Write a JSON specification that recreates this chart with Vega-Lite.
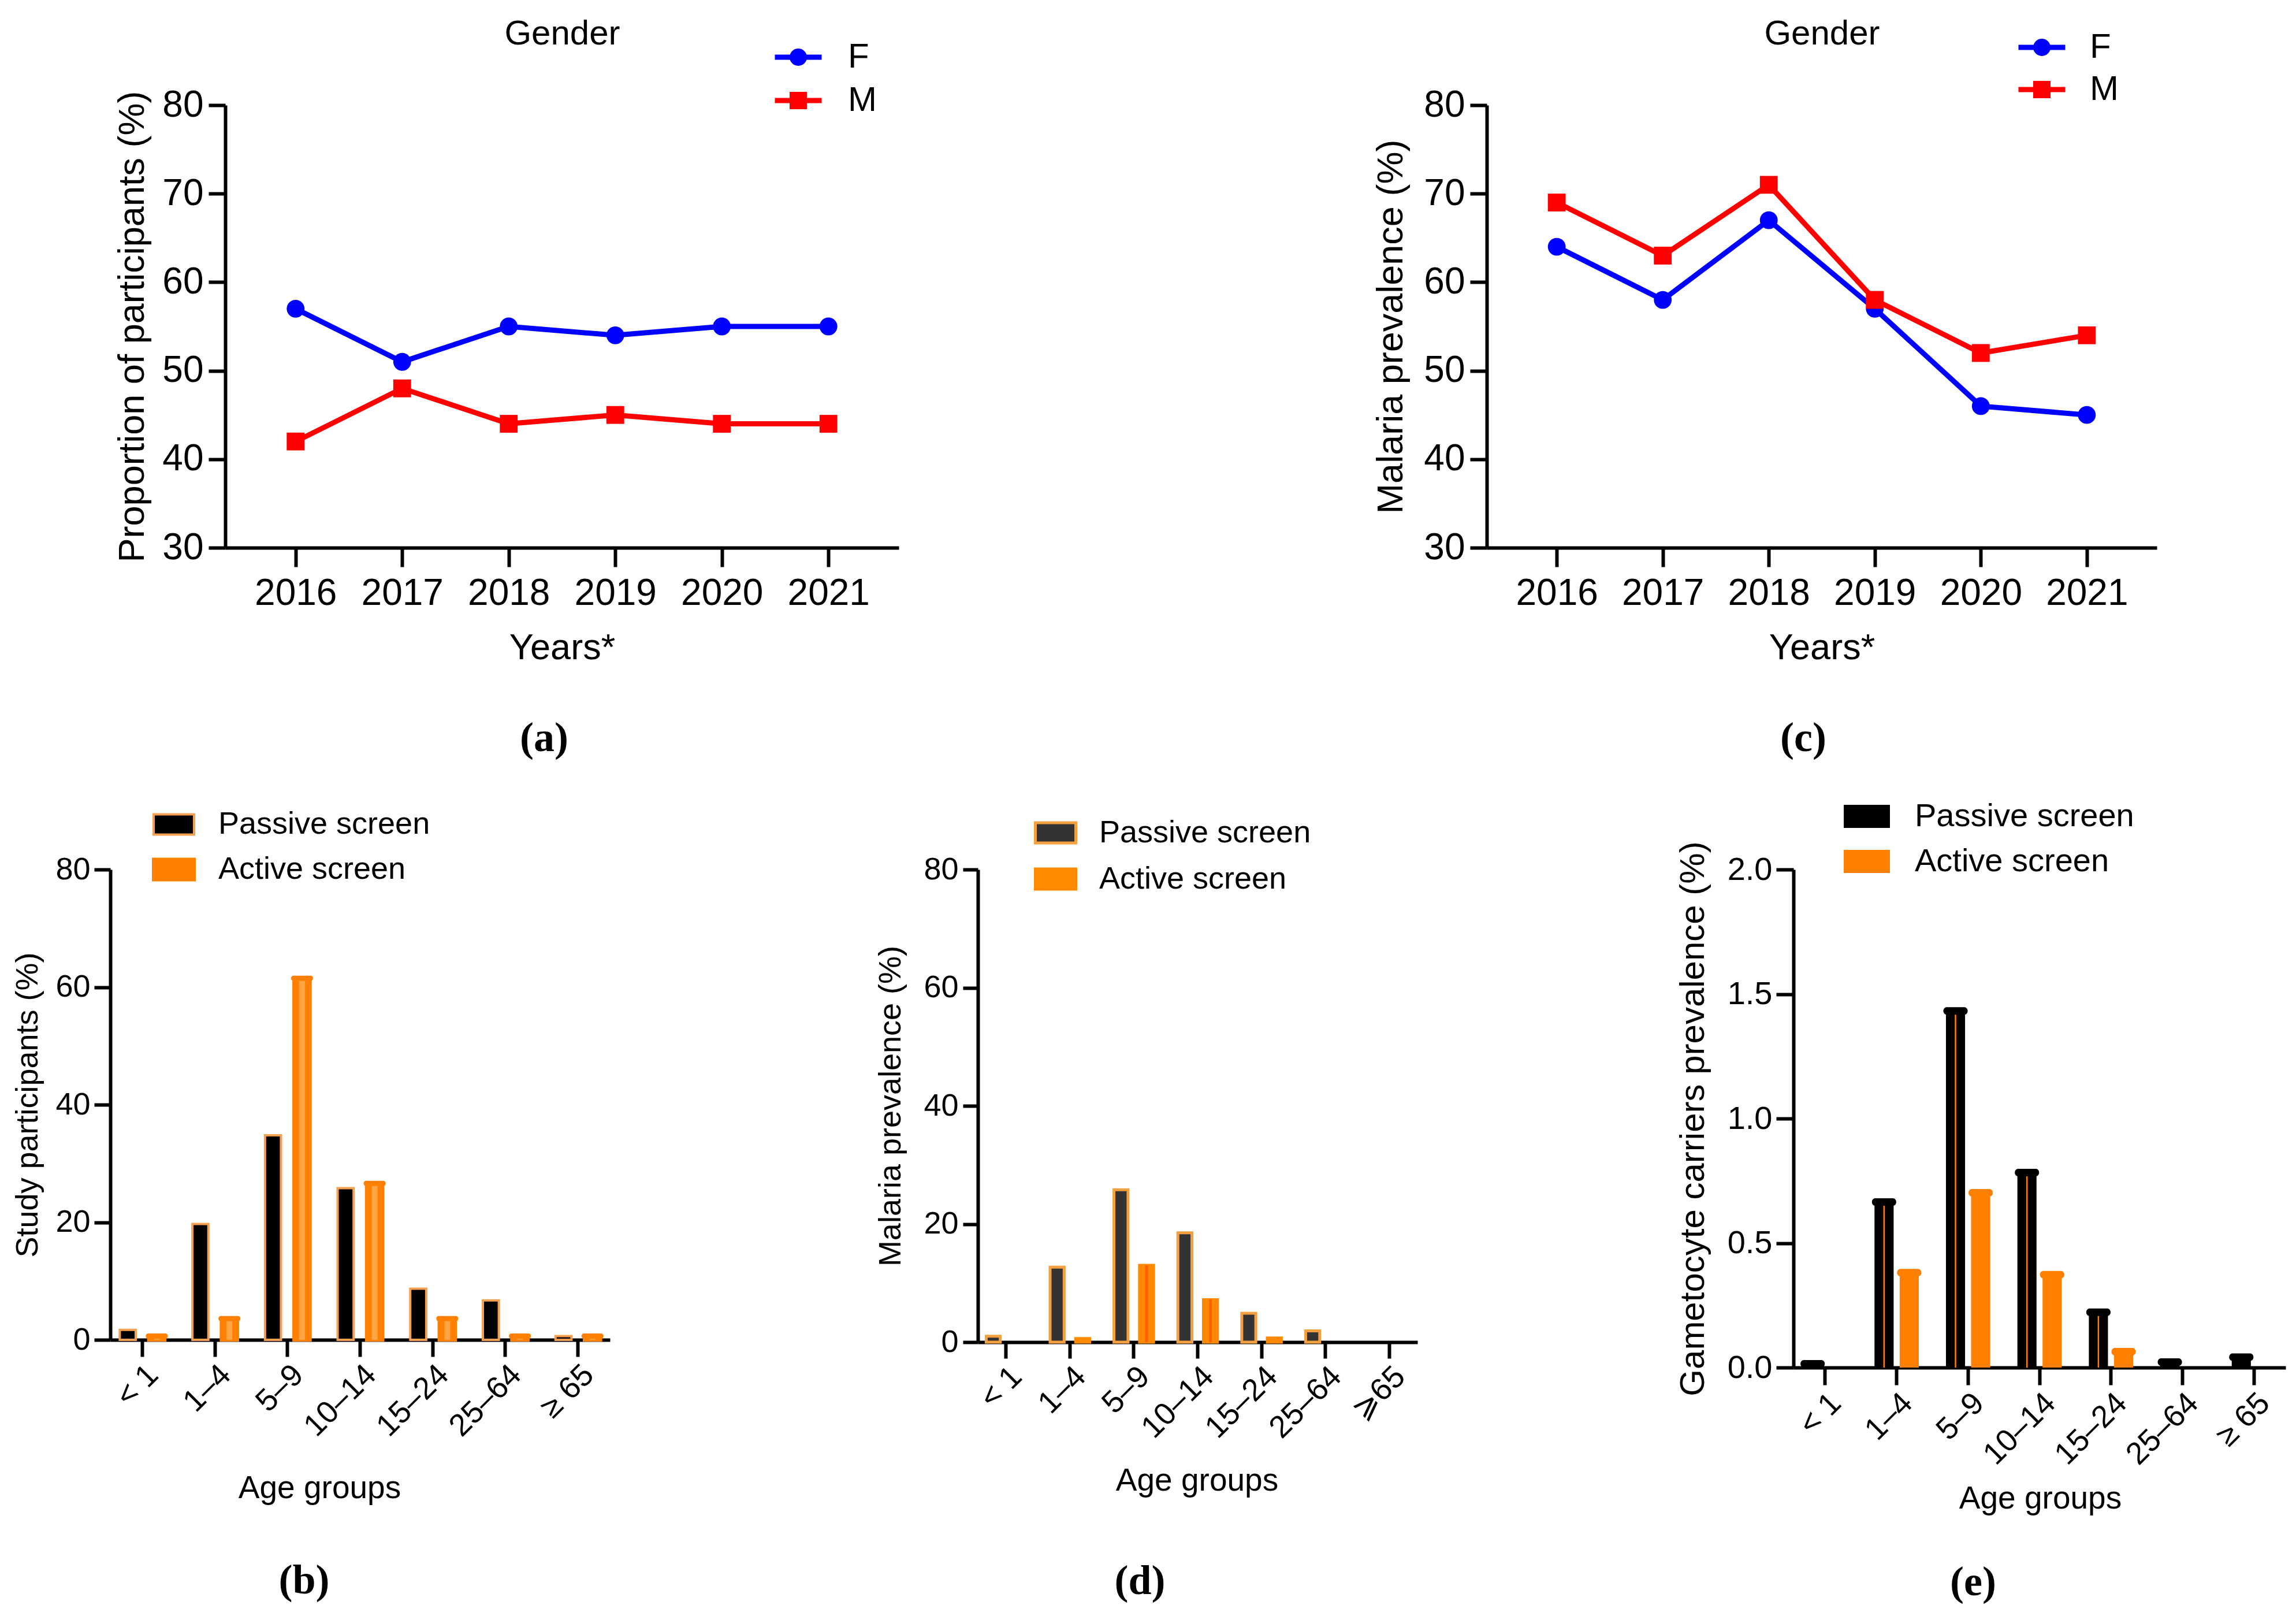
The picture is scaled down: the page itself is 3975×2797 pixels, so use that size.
{
  "$schema": "https://vega.github.io/schema/vega-lite/v6.json",
  "background": "white",
  "padding": {"left": 21, "top": 28, "right": 5, "bottom": 5},
  "config": {
    "view": {"stroke": null},
    "font": "Liberation Sans",
    "axis": {"grid": false, "domainColor": "black", "tickColor": "black", "labelColor": "black", "titleColor": "black", "titleFontWeight": "normal", "labelFont": "Liberation Sans", "titleFont": "Liberation Sans", "domainWidth": 6, "tickWidth": 6},
    "legend": {"labelFont": "Liberation Sans", "labelColor": "black", "labelLimit": 0},
    "title": {"font": "Liberation Serif", "fontWeight": "bold", "fontSize": 72, "color": "black"}
  },
  "datasets": {
    "lineA": [
      {"year": "2016", "g": "F", "v": 57}, {"year": "2017", "g": "F", "v": 51}, {"year": "2018", "g": "F", "v": 55},
      {"year": "2019", "g": "F", "v": 54}, {"year": "2020", "g": "F", "v": 55}, {"year": "2021", "g": "F", "v": 55},
      {"year": "2016", "g": "M", "v": 42}, {"year": "2017", "g": "M", "v": 48}, {"year": "2018", "g": "M", "v": 44},
      {"year": "2019", "g": "M", "v": 45}, {"year": "2020", "g": "M", "v": 44}, {"year": "2021", "g": "M", "v": 44}
    ],
    "lineC": [
      {"year": "2016", "g": "F", "v": 64}, {"year": "2017", "g": "F", "v": 58}, {"year": "2018", "g": "F", "v": 67},
      {"year": "2019", "g": "F", "v": 57}, {"year": "2020", "g": "F", "v": 46}, {"year": "2021", "g": "F", "v": 45},
      {"year": "2016", "g": "M", "v": 69}, {"year": "2017", "g": "M", "v": 63}, {"year": "2018", "g": "M", "v": 71},
      {"year": "2019", "g": "M", "v": 58}, {"year": "2020", "g": "M", "v": 52}, {"year": "2021", "g": "M", "v": 54}
    ],
    "barB": [
      {"age": "< 1", "s": "Passive screen", "v": 1.7}, {"age": "1–4", "s": "Passive screen", "v": 19.7},
      {"age": "5–9", "s": "Passive screen", "v": 34.8}, {"age": "10–14", "s": "Passive screen", "v": 25.8},
      {"age": "15–24", "s": "Passive screen", "v": 8.7}, {"age": "25–64", "s": "Passive screen", "v": 6.7},
      {"age": "≥ 65", "s": "Passive screen", "v": 0.65},
      {"age": "< 1", "s": "Active screen", "v": 0.65}, {"age": "1–4", "s": "Active screen", "v": 3.6},
      {"age": "5–9", "s": "Active screen", "v": 61.5}, {"age": "10–14", "s": "Active screen", "v": 26.6},
      {"age": "15–24", "s": "Active screen", "v": 3.6}, {"age": "25–64", "s": "Active screen", "v": 0.65},
      {"age": "≥ 65", "s": "Active screen", "v": 0.65}
    ],
    "barD": [
      {"age": "< 1", "s": "Passive screen", "v": 1.0}, {"age": "1–4", "s": "Passive screen", "v": 12.7},
      {"age": "5–9", "s": "Passive screen", "v": 25.8}, {"age": "10–14", "s": "Passive screen", "v": 18.5},
      {"age": "15–24", "s": "Passive screen", "v": 4.9}, {"age": "25–64", "s": "Passive screen", "v": 1.9},
      {"age": "⩾65", "s": "Passive screen", "v": 0},
      {"age": "< 1", "s": "Active screen", "v": 0}, {"age": "1–4", "s": "Active screen", "v": 0.6},
      {"age": "5–9", "s": "Active screen", "v": 13.0}, {"age": "10–14", "s": "Active screen", "v": 7.2},
      {"age": "15–24", "s": "Active screen", "v": 0.7}, {"age": "25–64", "s": "Active screen", "v": 0},
      {"age": "⩾65", "s": "Active screen", "v": 0}
    ],
    "barE": [
      {"age": "< 1", "s": "Passive screen", "v": 0.015}, {"age": "1–4", "s": "Passive screen", "v": 0.665},
      {"age": "5–9", "s": "Passive screen", "v": 1.432}, {"age": "10–14", "s": "Passive screen", "v": 0.783},
      {"age": "15–24", "s": "Passive screen", "v": 0.222}, {"age": "25–64", "s": "Passive screen", "v": 0.022},
      {"age": "≥ 65", "s": "Passive screen", "v": 0.042},
      {"age": "< 1", "s": "Active screen", "v": 0}, {"age": "1–4", "s": "Active screen", "v": 0.381},
      {"age": "5–9", "s": "Active screen", "v": 0.702}, {"age": "10–14", "s": "Active screen", "v": 0.373},
      {"age": "15–24", "s": "Active screen", "v": 0.064}, {"age": "25–64", "s": "Active screen", "v": 0},
      {"age": "≥ 65", "s": "Active screen", "v": 0}
    ]
  },
  "spacing": 1323,
  "bounds": "flush",
  "resolve": {
    "scale": {"fill": "independent", "stroke": "independent", "shape": "independent", "strokeWidth": "independent", "color": "independent", "xOffset": "independent"},
    "legend": {"fill": "independent", "stroke": "independent", "shape": "independent", "strokeWidth": "independent", "color": "independent"}
  },
  "vconcat": [
    {
      "spacing": 50,
      "bounds": "flush",
      "resolve": {
        "scale": {"fill": "independent", "stroke": "independent", "shape": "independent", "strokeWidth": "independent", "color": "independent", "xOffset": "independent"},
        "legend": {"fill": "independent", "stroke": "independent", "shape": "independent", "strokeWidth": "independent", "color": "independent"}
      },
      "hconcat": [
        {"width": 149, "height": 10, "data": {"values": []}, "mark": {"type": "point", "opacity": 0}},
        {
          "width": 1166, "height": 766,
          "data": {"name": "lineA"},
          "title": {"text": "(a)", "orient": "bottom", "anchor": "middle", "frame": "group", "dx": -31, "offset": 90},
          "layer": [
            {
              "mark": {"type": "line", "strokeWidth": 9},
              "encoding": {
                "x": {"field": "year", "type": "ordinal", "scale": {"type": "point", "padding": 0.66},
                      "axis": {"orient": "bottom", "title": "Years*", "labelAngle": 0, "labelFontSize": 64, "titleFontSize": 63, "tickSize": 33, "labelPadding": 14, "titlePadding": 31}},
                "y": {"field": "v", "type": "quantitative", "scale": {"domain": [30, 80]},
                      "axis": {"title": "Proportion of participants (%)", "values": [30, 40, 50, 60, 70, 80], "labelFontSize": 64, "titleFontSize": 63, "tickSize": 29, "labelPadding": 9, "titlePadding": 19}},
                "stroke": {"field": "g", "type": "nominal", "scale": {"domain": ["F", "M"], "range": ["#0000ff", "#ff0000"]},
                           "legend": {"orient": "none", "legendX": 962, "legendY": -113, "title": null, "symbolType": "M-2.7,0L2.7,0", "symbolSize": 900, "symbolStrokeWidth": 9, "labelFontSize": 60, "labelOffset": 56, "rowPadding": 15, "padding": 0}}
              }
            },
            {
              "mark": {"type": "point", "filled": true, "opacity": 1, "size": 950},
              "encoding": {
                "x": {"field": "year", "type": "ordinal", "axis": {"orient": "top", "title": "Gender", "labels": false, "ticks": false, "domain": false, "titleFontSize": 60, "titlePadding": 93}},
                "y": {"field": "v", "type": "quantitative"},
                "fill": {"field": "g", "type": "nominal", "scale": {"range": ["#0000ff", "#ff0000"]},
                         "legend": {"orient": "none", "legendX": 962, "legendY": -113, "title": null, "symbolSize": 900, "symbolStrokeWidth": 0, "labelFontSize": 60, "labelOffset": 56, "rowPadding": 15, "padding": 0, "labelExpr": "' '"}},
                "shape": {"field": "g", "type": "nominal", "scale": {"range": ["circle", "square"]}}
              }
            }
          ],
          "resolve": {"axis": {"x": "independent"}}
        },
        {"width": 918, "height": 10, "data": {"values": []}, "mark": {"type": "point", "opacity": 0}},
        {
          "width": 1160, "height": 766,
          "data": {"name": "lineC"},
          "title": {"text": "(c)", "orient": "bottom", "anchor": "middle", "frame": "group", "dx": -32, "offset": 90},
          "layer": [
            {
              "mark": {"type": "line", "strokeWidth": 9},
              "encoding": {
                "x": {"field": "year", "type": "ordinal", "scale": {"type": "point", "padding": 0.66},
                      "axis": {"orient": "bottom", "title": "Years*", "labelAngle": 0, "labelFontSize": 64, "titleFontSize": 63, "tickSize": 33, "labelPadding": 14, "titlePadding": 31}},
                "y": {"field": "v", "type": "quantitative", "scale": {"domain": [30, 80]},
                      "axis": {"title": "Malaria prevalence (%)", "values": [30, 40, 50, 60, 70, 80], "labelFontSize": 64, "titleFontSize": 63, "tickSize": 29, "labelPadding": 9, "titlePadding": 24}},
                "stroke": {"field": "g", "type": "nominal", "scale": {"domain": ["F", "M"], "range": ["#0000ff", "#ff0000"]},
                           "legend": {"orient": "none", "legendX": 931, "legendY": -130, "title": null, "symbolType": "M-2.7,0L2.7,0", "symbolSize": 900, "symbolStrokeWidth": 9, "labelFontSize": 60, "labelOffset": 53, "rowPadding": 13, "padding": 0}}
              }
            },
            {
              "mark": {"type": "point", "filled": true, "opacity": 1, "size": 950},
              "encoding": {
                "x": {"field": "year", "type": "ordinal", "axis": {"orient": "top", "title": "Gender", "labels": false, "ticks": false, "domain": false, "titleFontSize": 60, "titlePadding": 93}},
                "y": {"field": "v", "type": "quantitative"},
                "fill": {"field": "g", "type": "nominal", "scale": {"range": ["#0000ff", "#ff0000"]},
                         "legend": {"orient": "none", "legendX": 931, "legendY": -130, "title": null, "symbolSize": 900, "symbolStrokeWidth": 0, "labelFontSize": 60, "labelOffset": 53, "rowPadding": 13, "padding": 0, "labelExpr": "' '"}},
                "shape": {"field": "g", "type": "nominal", "scale": {"range": ["circle", "square"]}}
              }
            }
          ],
          "resolve": {"axis": {"x": "independent"}}
        }
      ]
    },
    {
      "spacing": 50,
      "bounds": "flush",
      "resolve": {
        "scale": {"fill": "independent", "stroke": "independent", "shape": "independent", "strokeWidth": "independent", "color": "independent", "xOffset": "independent"},
        "legend": {"fill": "independent", "stroke": "independent", "shape": "independent", "strokeWidth": "independent", "color": "independent"}
      },
      "hconcat": [
        {
          "width": 865, "height": 814,
          "data": {"name": "barB"},
          "title": {"text": "(b)", "orient": "bottom", "anchor": "middle", "frame": "group", "dx": -97, "offset": 98},
          "encoding": {
            "x": {"field": "age", "type": "nominal", "sort": null,
                  "scale": {"domain": ["< 1", "1–4", "5–9", "10–14", "15–24", "25–64", "≥ 65"], "paddingInner": 0.38, "paddingOuter": 0.13},
                  "axis": {"title": "Age groups", "labelAngle": -45, "labelFontSize": 54, "titleFontSize": 55, "tickSize": 29, "labelPadding": 4, "titleX": 362, "titleY": 256, "titleBaseline": "middle"}},
            "xOffset": {"field": "s", "type": "nominal", "scale": {"domain": ["Passive screen", "Active screen"], "paddingInner": 0.45, "paddingOuter": 0}},
            "y": {"field": "v", "type": "quantitative", "scale": {"domain": [0, 80]},
                  "axis": {"title": "Study participants (%)", "values": [0, 20, 40, 60, 80], "labelFontSize": 54, "titleFontSize": 54, "tickSize": 28, "labelPadding": 7, "titlePadding": 20}}
          },
          "layer": [
            {
              "transform": [{"filter": "datum.v > 0"}],
              "mark": {"type": "bar"},
              "encoding": {
                "fill": {"field": "s", "type": "nominal", "scale": {"domain": ["Passive screen", "Active screen"], "range": ["#000000", "#ff8000"]},
                         "legend": {"orient": "none", "legendX": 72, "legendY": -115, "title": null, "symbolType": "M-1,-0.5H1V0.5H-1Z", "symbolSize": 4900, "labelFontSize": 54, "labelOffset": 39, "rowPadding": 13, "padding": 0}},
                "stroke": {"field": "s", "type": "nominal", "scale": {"domain": ["Passive screen", "Active screen"], "range": ["#f5a050", "#ff8000"]}},
                "strokeWidth": {"field": "s", "type": "ordinal", "scale": {"domain": ["Passive screen", "Active screen"], "range": [4, 6]}}
              }
            },
            {
              "transform": [{"filter": "datum.v > 0 && datum.s == 'Active screen'"}],
              "mark": {"type": "rule", "strokeWidth": 10, "color": "#ffa545"},
              "encoding": {"y2": {"datum": 0}}
            },
            {
              "transform": [{"filter": "datum.v > 0 && datum.s == 'Active screen'"}],
              "mark": {"type": "tick", "thickness": 9, "size": 38, "cornerRadius": 4, "color": "#ff8000", "opacity": 1}
            }
          ]
        },
        {"width": 537, "height": 10, "data": {"values": []}, "mark": {"type": "point", "opacity": 0}},
        {
          "width": 761, "height": 818,
          "data": {"name": "barD"},
          "title": {"text": "(d)", "orient": "bottom", "anchor": "middle", "frame": "group", "dx": -100, "offset": 112},
          "encoding": {
            "x": {"field": "age", "type": "nominal", "sort": null,
                  "scale": {"domain": ["< 1", "1–4", "5–9", "10–14", "15–24", "25–64", "⩾65"], "paddingInner": 0.38, "paddingOuter": 0.13},
                  "axis": {"title": "Age groups", "labelAngle": -45, "labelFontSize": 54, "titleFontSize": 55, "tickSize": 28, "labelPadding": 4, "titleX": 379, "titleY": 239, "titleBaseline": "middle"}},
            "xOffset": {"field": "s", "type": "nominal", "scale": {"domain": ["Passive screen", "Active screen"], "paddingInner": 0.45, "paddingOuter": 0}},
            "y": {"field": "v", "type": "quantitative", "scale": {"domain": [0, 80]},
                  "axis": {"title": "Malaria prevalence (%)", "values": [0, 20, 40, 60, 80], "labelFontSize": 54, "titleFontSize": 54, "tickSize": 26, "labelPadding": 8, "titlePadding": 29}}
          },
          "layer": [
            {
              "transform": [{"filter": "datum.v > 0"}],
              "mark": {"type": "bar"},
              "encoding": {
                "fill": {"field": "s", "type": "nominal", "scale": {"domain": ["Passive screen", "Active screen"], "range": ["#333333", "#ff8a00"]},
                         "legend": {"orient": "none", "legendX": 97, "legendY": -101, "title": null, "symbolType": "M-1,-0.5H1V0.5H-1Z", "symbolSize": 4900, "labelFontSize": 54, "labelOffset": 38, "rowPadding": 15, "padding": 0}},
                "stroke": {"field": "s", "type": "nominal", "scale": {"domain": ["Passive screen", "Active screen"], "range": ["#f5a040", "#ff8a00"]}},
                "strokeWidth": {"field": "s", "type": "ordinal", "scale": {"domain": ["Passive screen", "Active screen"], "range": [5, 5]}}
              }
            },
            {
              "transform": [{"filter": "datum.v > 1 && datum.s == 'Active screen'"}],
              "mark": {"type": "rule", "strokeWidth": 5, "color": "#ff6000"},
              "encoding": {"y2": {"datum": 0}}
            }
          ]
        },
        {"width": 551, "height": 10, "data": {"values": []}, "mark": {"type": "point", "opacity": 0}},
        {
          "width": 852, "height": 862,
          "data": {"name": "barE"},
          "title": {"text": "(e)", "orient": "bottom", "anchor": "middle", "frame": "group", "dx": -115, "offset": 83},
          "encoding": {
            "x": {"field": "age", "type": "nominal", "sort": null,
                  "scale": {"domain": ["< 1", "1–4", "5–9", "10–14", "15–24", "25–64", "≥ 65"], "paddingInner": 0.38, "paddingOuter": 0.134},
                  "axis": {"title": "Age groups", "labelAngle": -45, "labelFontSize": 54, "titleFontSize": 55, "tickSize": 30, "labelPadding": 4, "titleX": 427, "titleY": 226, "titleBaseline": "middle"}},
            "xOffset": {"field": "s", "type": "nominal", "scale": {"domain": ["Passive screen", "Active screen"], "paddingInner": 0.24, "paddingOuter": 0}},
            "y": {"field": "v", "type": "quantitative", "scale": {"domain": [0, 2]},
                  "axis": {"title": "Gametocyte carriers prevalence (%)", "values": [0, 0.5, 1, 1.5, 2], "format": ".1f", "labelFontSize": 56, "titleFontSize": 60, "tickSize": 30, "labelPadding": 7, "titlePadding": 28}}
          },
          "layer": [
            {
              "transform": [{"filter": "datum.v > 0"}],
              "mark": {"type": "bar"},
              "encoding": {
                "fill": {"field": "s", "type": "nominal", "scale": {"domain": ["Passive screen", "Active screen"], "range": ["#000000", "#ff8000"]},
                         "legend": {"orient": "none", "legendX": 86, "legendY": -133, "title": null, "symbolType": "M-1,-0.5H1V0.5H-1Z", "symbolSize": 6400, "labelFontSize": 56, "labelOffset": 42, "rowPadding": 9, "padding": 0}}
              }
            },
            {
              "transform": [{"filter": "datum.v > 0.1 && datum.s == 'Passive screen'"}],
              "mark": {"type": "rule", "strokeWidth": 2.5, "color": "#ff8000"},
              "encoding": {"y2": {"datum": 0}}
            },
            {
              "transform": [{"filter": "datum.v > 0 && datum.s == 'Passive screen'"}],
              "mark": {"type": "tick", "thickness": 13, "size": 42, "cornerRadius": 6, "color": "#000000", "opacity": 1}
            },
            {
              "transform": [{"filter": "datum.v > 0 && datum.s == 'Active screen'"}],
              "mark": {"type": "tick", "thickness": 13, "size": 42, "cornerRadius": 6, "color": "#ff8000", "opacity": 1}
            }
          ]
        }
      ]
    }
  ]
}
